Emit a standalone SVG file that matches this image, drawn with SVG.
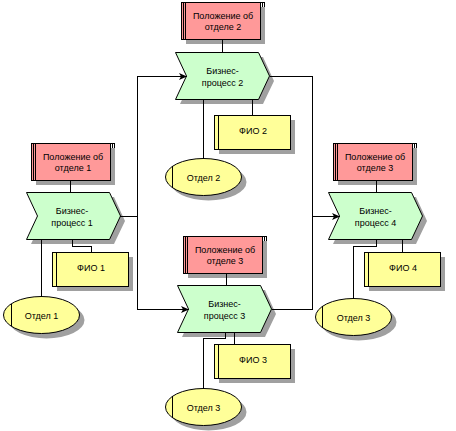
<svg xmlns="http://www.w3.org/2000/svg" width="456" height="431" viewBox="0 0 456 431">
<style>
text{font-family:"Liberation Sans",Arial,sans-serif;font-size:9px;text-anchor:middle;fill:#000}
.sh{fill:#a0a0a0;stroke:none}
.org{fill:#ff9999;stroke:#000;stroke-width:1}
.proc{fill:#ccffcc;stroke:#000;stroke-width:1}
.yel{fill:#ffff99;stroke:#000;stroke-width:1}
.ln{fill:none;stroke:#000;stroke-width:1}
.c{fill:none;stroke:#000;stroke-width:1;shape-rendering:crispEdges}
</style>
<defs>
<marker id="arr" markerUnits="userSpaceOnUse" markerWidth="9" markerHeight="7" refX="8" refY="3.5" orient="auto">
<path d="M0,0 L8,3.5 L0,7 L2,3.5 z" fill="#000"/>
</marker>
</defs>
<rect width="456" height="431" fill="#fff"/>

<!-- Org units (red) -->
<g id="org2" transform="translate(181,2)">
<rect class="sh" x="5" y="5" width="79" height="37"/>
<rect class="org" x="0.5" y="0.5" width="79" height="37"/>
<path class="c" d="M2.5,0.5V37.5M4.5,0.5V37.5M81.5,0.5V4.5M83.5,0.5V4.5M79.5,0.5H83.5"/>
<text x="42" y="16.5">Положение об</text>
<text x="42" y="27.5">отделе 2</text>
</g>
<g id="org1" transform="translate(31,143)">
<rect class="sh" x="5" y="5" width="79" height="37"/>
<rect class="org" x="0.5" y="0.5" width="79" height="37"/>
<path class="c" d="M2.5,0.5V37.5M4.5,0.5V37.5M81.5,0.5V4.5M83.5,0.5V4.5M79.5,0.5H83.5"/>
<text x="42" y="16.5">Положение об</text>
<text x="42" y="27.5">отделе 1</text>
</g>
<g id="org3" transform="translate(183,236)">
<rect class="sh" x="5" y="5" width="79" height="37"/>
<rect class="org" x="0.5" y="0.5" width="79" height="37"/>
<path class="c" d="M2.5,0.5V37.5M4.5,0.5V37.5M81.5,0.5V4.5M83.5,0.5V4.5M79.5,0.5H83.5"/>
<text x="42" y="16.5">Положение об</text>
<text x="42" y="27.5">отделе 3</text>
</g>
<g id="org4" transform="translate(333,143)">
<rect class="sh" x="5" y="5" width="79" height="37"/>
<rect class="org" x="0.5" y="0.5" width="79" height="37"/>
<path class="c" d="M2.5,0.5V37.5M4.5,0.5V37.5M81.5,0.5V4.5M83.5,0.5V4.5M79.5,0.5H83.5"/>
<text x="42" y="16.5">Положение об</text>
<text x="42" y="27.5">отделе 3</text>
</g>

<!-- Processes (green chevrons) -->
<g id="proc1" transform="translate(26,192)">
<polygon class="sh" points="5,5 88,5 99,29 88,52 5,52 16,29"/>
<polygon class="proc" points="0.5,0.5 83.5,0.5 94.5,24 83.5,47.5 0.5,47.5 11.5,24"/>
<text x="46" y="21.5">Бизнес-</text>
<text x="46" y="33.5">процесс 1</text>
</g>
<g id="proc2" transform="translate(175,52)">
<polygon class="sh" points="5,5 88,5 99,29 88,52 5,52 16,29"/>
<polygon class="proc" points="0.5,0.5 83.5,0.5 94.5,24 83.5,47.5 0.5,47.5 11.5,24"/>
<text x="47.5" y="21.5">Бизнес-</text>
<text x="47.5" y="33.5">процесс 2</text>
</g>
<g id="proc3" transform="translate(177,285)">
<polygon class="sh" points="5,5 88,5 99,29 88,52 5,52 16,29"/>
<polygon class="proc" points="0.5,0.5 83.5,0.5 94.5,24 83.5,47.5 0.5,47.5 11.5,24"/>
<text x="47.5" y="21.5">Бизнес-</text>
<text x="47.5" y="33.5">процесс 3</text>
</g>
<g id="proc4" transform="translate(328,192)">
<polygon class="sh" points="5,5 88,5 99,29 88,52 5,52 16,29"/>
<polygon class="proc" points="0.5,0.5 83.5,0.5 94.5,24 83.5,47.5 0.5,47.5 11.5,24"/>
<text x="47.5" y="21.5">Бизнес-</text>
<text x="47.5" y="33.5">процесс 4</text>
</g>

<!-- Persons (yellow boxes) -->
<g id="fio1" transform="translate(52,252)">
<rect class="sh" x="5" y="5" width="76" height="34"/>
<rect class="yel" x="0.5" y="0.5" width="76" height="34"/>
<path class="c" d="M4.5,0.5V34.5"/>
<text x="39" y="19">ФИО 1</text>
</g>
<g id="fio2" transform="translate(214,115)">
<rect class="sh" x="5" y="5" width="76" height="34"/>
<rect class="yel" x="0.5" y="0.5" width="76" height="34"/>
<path class="c" d="M4.5,0.5V34.5"/>
<text x="39" y="19">ФИО 2</text>
</g>
<g id="fio3" transform="translate(214,344)">
<rect class="sh" x="5" y="5" width="76" height="34"/>
<rect class="yel" x="0.5" y="0.5" width="76" height="34"/>
<path class="c" d="M4.5,0.5V34.5"/>
<text x="39" y="19">ФИО 3</text>
</g>
<g id="fio4" transform="translate(364,252)">
<rect class="sh" x="5" y="5" width="76" height="34"/>
<rect class="yel" x="0.5" y="0.5" width="76" height="34"/>
<path class="c" d="M4.5,0.5V34.5"/>
<text x="39" y="19">ФИО 4</text>
</g>

<!-- Departments (yellow ellipses) -->
<g id="dept1" transform="translate(41.5,315)">
<ellipse class="sh" cx="5" cy="5" rx="38" ry="18.5"/>
<ellipse class="yel" cx="0" cy="0" rx="38" ry="18.5"/>
<path class="c" d="M-30,-11V11"/>
<text x="0" y="3.5">Отдел 1</text>
</g>
<g id="dept2" transform="translate(203.5,177)">
<ellipse class="sh" cx="5" cy="5" rx="38" ry="18.5"/>
<ellipse class="yel" cx="0" cy="0" rx="38" ry="18.5"/>
<path class="c" d="M-31,-11V11"/>
<text x="0" y="3.5">Отдел 2</text>
</g>
<g id="dept3b" transform="translate(203.5,407)">
<ellipse class="sh" cx="5" cy="5" rx="38" ry="18.5"/>
<ellipse class="yel" cx="0" cy="0" rx="38" ry="18.5"/>
<path class="c" d="M-31,-11V11"/>
<text x="0" y="3.5">Отдел 3</text>
</g>
<g id="dept3r" transform="translate(353.5,317)">
<ellipse class="sh" cx="5" cy="5" rx="38" ry="18.5"/>
<ellipse class="yel" cx="0" cy="0" rx="38" ry="18.5"/>
<path class="c" d="M-31,-11V11"/>
<text x="0" y="3.5">Отдел 3</text>
</g>

<!-- Connectors -->
<g id="connectors" class="c">
<path class="c" d="M70.5,180V192"/>
<path class="c" d="M222.5,39V52"/>
<path class="c" d="M226.5,273V285"/>
<path class="c" d="M376.5,180V192"/>
<path class="c" d="M120,216.5H137.5"/>
<path class="c" d="M137.5,76.5V309.5"/>
<path class="ln" d="M137,76.5H187" marker-end="url(#arr)"/>
<path class="ln" d="M137,309.5H189" marker-end="url(#arr)"/>
<path class="c" d="M269.5,76.5H312.5V309.5"/>
<path class="c" d="M271.5,309.5H312.5"/>
<path class="ln" d="M312,216.5H340" marker-end="url(#arr)"/>
<path class="c" d="M41.5,240V296.5"/>
<path class="c" d="M72.5,240V246.5H91.5V252"/>
<path class="c" d="M203.5,100V158.5"/>
<path class="c" d="M252.5,100V115"/>
<path class="c" d="M225.5,333V338.5H203.5V388.5"/>
<path class="c" d="M234.5,333V344"/>
<path class="c" d="M376.5,240V246.5H353.5V298.5"/>
<path class="c" d="M402.5,240V252"/>
</g>
</svg>
